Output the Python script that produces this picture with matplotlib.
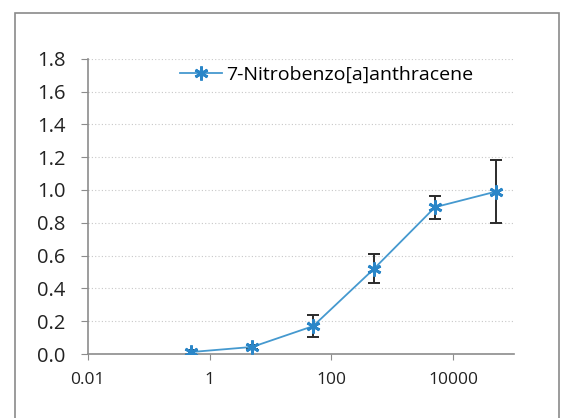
import matplotlib
matplotlib.use('Agg')
import matplotlib.pyplot as plt
from matplotlib.patches import Rectangle

plt.rcParams['font.family'] = ['Open Sans', 'DejaVu Sans']

# concentration series and response
conc = [0.5, 5, 50, 500, 5000, 50000]
response = [0.012, 0.043, 0.17, 0.52, 0.895, 0.99]
err = [0.01, 0.012, 0.068, 0.09, 0.07, 0.19]
series_name = '7-Nitrobenzo[a]anthracene'
yticks = [0.0, 0.2, 0.4, 0.6, 0.8, 1.0, 1.2, 1.4, 1.6, 1.8]
xticks = [0.01, 1, 100, 10000]
xtick_labels = ['0.01', '1', '100', '10000']

fig = plt.figure(figsize=(5.69, 4.18), dpi=100)
ax = fig.add_axes([0.1541, 0.1531, 0.7498, 0.7065])

# outer chart border
fig.patches.append(Rectangle((15/569, -0.05), (559-15)/569, 1-13/418+0.05,
                             transform=fig.transFigure, fill=False,
                             edgecolor='#8a8a8a', lw=1.2))

ax.errorbar(conc, response, yerr=err, fmt='none', ecolor='#2b2b2b',
            elinewidth=1.4, capsize=4, capthick=1.4, zorder=2)
ax.plot(conc, response, color='#4599cf', lw=1.3, marker=(6, 2, 0),
        markersize=10, markeredgewidth=2, markeredgecolor='#2a86c8',
        label=series_name, zorder=3)

ax.set_xscale('log')
ax.set_xlim(0.01, 100000)
ax.set_ylim(0, 1.8)
ax.set_xticks(xticks)
ax.set_xticklabels(xtick_labels)
ax.minorticks_off()
ax.set_yticks(yticks)
ax.set_yticklabels([f'{v:.1f}' for v in yticks])

ax.grid(axis='y', linestyle=(0, (1, 2)), color='#c8c8c8', lw=0.8)
ax.set_axisbelow(True)
for side in ['top', 'right']:
    ax.spines[side].set_visible(False)
for side in ['left', 'bottom']:
    ax.spines[side].set_color('#8c8c8c')
    ax.spines[side].set_linewidth(1.2)

ax.tick_params(axis='y', direction='out', length=5, color='#8c8c8c',
               labelsize=14.5, pad=11, labelcolor='#222222')
ax.tick_params(axis='x', direction='out', length=4, color='#8c8c8c',
               labelsize=12.5, pad=9, labelcolor='#222222')

ax.legend(loc='center left', bbox_to_anchor=(0.197, 0.945), frameon=False,
          fontsize=14, handlelength=2.2, handletextpad=0.2,
          borderaxespad=0)

fig.savefig('out.png', dpi=100)
